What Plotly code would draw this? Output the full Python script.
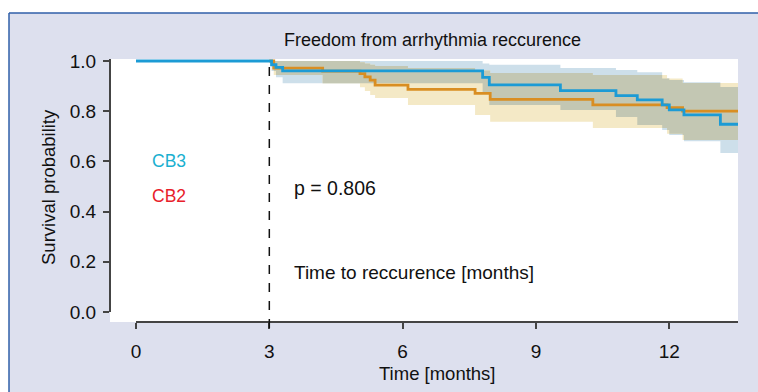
import plotly.graph_objects as go

# ---------------- data ----------------
end_time = 13.55

cb3_time = [0.0, 3.05, 3.15, 3.3, 7.8, 7.95, 9.55, 10.8, 11.28, 11.84, 12.0, 12.33, 13.15]
cb3_surv = [1.0, 0.985, 0.975, 0.961, 0.935, 0.905, 0.882, 0.862, 0.845, 0.825, 0.805, 0.785, 0.748]
cb3_lower = [1.0, 0.96, 0.935, 0.911, 0.87, 0.825, 0.805, 0.777, 0.745, 0.725, 0.705, 0.68, 0.633]
cb3_upper = [1.0, 1.0, 1.0, 1.0, 0.99, 0.985, 0.972, 0.964, 0.955, 0.93, 0.924, 0.915, 0.896]

cb2_time = [3.0, 3.1, 4.2, 5.04, 5.15, 5.27, 5.38, 6.12, 7.63, 7.97, 10.28, 11.95, 12.3]
cb2_surv = [1.0, 0.972, 0.96, 0.95, 0.937, 0.924, 0.904, 0.887, 0.871, 0.847, 0.825, 0.814, 0.80]
cb2_lower = [1.0, 0.944, 0.911, 0.895, 0.88, 0.865, 0.853, 0.825, 0.785, 0.758, 0.733, 0.71, 0.685]
cb2_upper = [1.0, 1.0, 1.0, 0.995, 0.99, 0.985, 0.98, 0.972, 0.962, 0.952, 0.944, 0.93, 0.912]

x_ticks = [0, 3, 6, 9, 12]
y_ticks = [0.0, 0.2, 0.4, 0.6, 0.8, 1.0]
landmark = 3
p_text = "p = 0.806"

# ---------------- helpers ----------------
FONT = "Liberation Sans, Arial, sans-serif"
W, H = 758, 392
ML, MR, MT, MB = 110, 20, 59, 70
PW, PH = W - ML - MR, H - MT - MB


def px(xp):
    return (xp - ML) / PW


def py(yp):
    return (H - MB - yp) / PH


def step_val(times, vals, t):
    v = vals[0]
    for ti, vi in zip(times, vals):
        if ti <= t + 1e-9:
            v = vi
    return v


def band_poly(grid, lo, hi):
    xs, ys = [], []
    for i in range(len(grid) - 1):
        xs += [grid[i], grid[i + 1]]
        ys += [hi[i], hi[i]]
    for i in range(len(grid) - 2, -1, -1):
        xs += [grid[i + 1], grid[i]]
        ys += [lo[i], lo[i]]
    return xs, ys


start = min(cb2_time[0], 3.0)
grid = sorted(set([t for t in cb3_time + cb2_time if t >= start] + [end_time]))

b_lo = [step_val(cb3_time, cb3_lower, t) for t in grid[:-1]]
b_hi = [step_val(cb3_time, cb3_upper, t) for t in grid[:-1]]
o_lo = [step_val(cb2_time, cb2_lower, t) for t in grid[:-1]]
o_hi = [step_val(cb2_time, cb2_upper, t) for t in grid[:-1]]
ov_lo = [max(a, b) for a, b in zip(b_lo, o_lo)]
ov_hi = [max(min(a, b), lo) for a, b, lo in zip(b_hi, o_hi, ov_lo)]

fig = go.Figure()

bx, by = band_poly(grid, b_lo, b_hi)
fig.add_trace(go.Scatter(x=bx, y=by, fill="toself", fillcolor="#cddfea",
                         line=dict(width=0), mode="lines", hoverinfo="skip", showlegend=False))
ox, oy = band_poly(grid, o_lo, o_hi)
fig.add_trace(go.Scatter(x=ox, y=oy, fill="toself", fillcolor="#f4e9c6",
                         line=dict(width=0), mode="lines", hoverinfo="skip", showlegend=False))
vx, vy = band_poly(grid, ov_lo, ov_hi)
fig.add_trace(go.Scatter(x=vx, y=vy, fill="toself", fillcolor="#c3c7b3",
                         line=dict(width=0), mode="lines", hoverinfo="skip", showlegend=False))

fig.add_trace(go.Scatter(x=cb2_time + [end_time], y=cb2_surv + [cb2_surv[-1]],
                         mode="lines", line=dict(color="#d98e22", width=2.8, shape="hv"),
                         name="CB2", showlegend=False))
fig.add_trace(go.Scatter(x=cb3_time + [end_time], y=cb3_surv + [cb3_surv[-1]],
                         mode="lines", line=dict(color="#1c9bd5", width=2.8, shape="hv"),
                         name="CB3", showlegend=False))

x0r = (ML - 136) / 44.44
x1r = (ML + PW - 136) / 44.44
y1r = (312 - MT) / 251
y0r = (312 - (H - MB)) / 251

fig.update_xaxes(range=[x0r, x1r], tickvals=x_ticks, ticks="outside", ticklen=6,
                 tickwidth=1.5, tickcolor="#444", showgrid=False, zeroline=False,
                 showline=False, tickfont=dict(family=FONT, size=19, color="#111"),
                 ticklabelstandoff=6)
fig.update_yaxes(range=[y0r, y1r], tickvals=y_ticks, tickformat=".1f", ticks="outside",
                 ticklen=6, tickwidth=1.5, tickcolor="#444", showgrid=False, zeroline=False,
                 showline=False, tickfont=dict(family=FONT, size=19, color="#111"),
                 ticklabelstandoff=3)

shapes = [
    # white outer margin and blue frame
    dict(type="rect", xref="paper", yref="paper", x0=px(-5), x1=px(W + 5), y0=py(13), y1=py(-5),
         fillcolor="white", line=dict(width=0), layer="below"),
    dict(type="rect", xref="paper", yref="paper", x0=px(-5), x1=px(9), y0=py(H + 5), y1=py(-5),
         fillcolor="white", line=dict(width=0), layer="below"),
    dict(type="line", xref="paper", yref="paper", x0=px(9), x1=px(W + 5), y0=py(13), y1=py(13),
         line=dict(color="#2f5fa8", width=1.5)),
    dict(type="line", xref="paper", yref="paper", x0=px(9), x1=px(9), y0=py(13), y1=py(H + 5),
         line=dict(color="#2f5fa8", width=1.5)),
    # axis lines
    dict(type="line", xref="paper", yref="y", x0=0, x1=0, y0=0, y1=y1r,
         line=dict(color="#444", width=2)),
    dict(type="line", xref="x", yref="paper", x0=0, x1=x1r, y0=0, y1=0,
         line=dict(color="#444", width=2)),
    # landmark dashed line
    dict(type="line", xref="x", yref="paper", x0=landmark, x1=landmark, y0=py(328), y1=1,
         line=dict(color="#111", width=1.5, dash="dash")),
]

annotations = [
    dict(text="Freedom from arrhythmia reccurence", x=px(432), y=py(40), xref="paper",
         yref="paper", showarrow=False, xanchor="center", yanchor="middle",
         font=dict(family=FONT, size=18, color="#111")),
    dict(text="Time [months]", x=px(437), y=py(373), xref="paper", yref="paper",
         showarrow=False, xanchor="center", yanchor="middle",
         font=dict(family=FONT, size=18.5, color="#111")),
    dict(text="Survival probability", x=px(48), y=py(187), xref="paper", yref="paper",
         showarrow=False, xanchor="center", yanchor="middle", textangle=-90,
         font=dict(family=FONT, size=18.5, color="#111")),
    dict(text="CB3", x=px(150), y=py(161), xref="paper", yref="paper", showarrow=False,
         xanchor="left", yanchor="middle", font=dict(family=FONT, size=17.5, color="#1ab0d0")),
    dict(text="CB2", x=px(150), y=py(196), xref="paper", yref="paper", showarrow=False,
         xanchor="left", yanchor="middle", font=dict(family=FONT, size=17.5, color="#e8202a")),
    dict(text=p_text, x=px(292), y=py(188), xref="paper", yref="paper", showarrow=False,
         xanchor="left", yanchor="middle", font=dict(family=FONT, size=19.5, color="#111")),
    dict(text="Time to reccurence [months]", x=px(292), y=py(272), xref="paper", yref="paper",
         showarrow=False, xanchor="left", yanchor="middle",
         font=dict(family=FONT, size=19, color="#111")),
]

fig.update_layout(width=W, height=H, margin=dict(l=ML, r=MR, t=MT, b=MB),
                  paper_bgcolor="#dde0ee", plot_bgcolor="white",
                  shapes=shapes, annotations=annotations, showlegend=False)

fig.write_html("out.html", config={"displayModeBar": False},
               post_script="document.body.style.margin='0';document.body.style.overflow='hidden';")
